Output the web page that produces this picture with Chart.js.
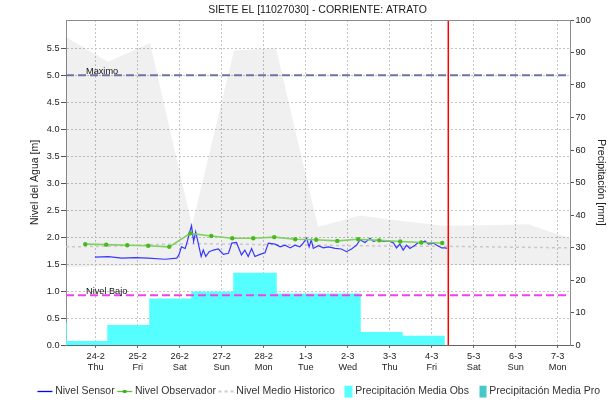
<!DOCTYPE html>
<html>
<head>
<meta charset="utf-8">
<script src="https://cdn.jsdelivr.net/npm/chart.js@4.4.1/dist/chart.umd.min.js"></script>
<style>
html,body{margin:0;padding:0;background:#fff;}
#wrap{width:615px;height:404px;}
</style>
</head>
<body>
<div id="wrap"><canvas id="c" width="615" height="404"></canvas></div>
<script>
// ---------- DATA (x values are days since 24-2 00:00) ----------
const chartTitle = 'SIETE EL [11027030] - CORRIENTE: ATRATO';
const dayLabels = ['24-2','25-2','26-2','27-2','28-2','1-3','2-3','3-3','4-3','5-3','6-3','7-3'];
const weekdayLabels = ['Thu','Fri','Sat','Sun','Mon','Tue','Wed','Thu','Fri','Sat','Sun','Mon'];
const leftTicks = [0,0.5,1,1.5,2,2.5,3,3.5,4,4.5,5,5.5];
const rightTicks = [0,10,20,30,40,50,60,70,80,90,100];

const sensorTime = [-0.02,0.30,0.62,0.94,1.25,1.65,1.93,1.98,2.04,2.13,2.19,2.24,2.28,2.33,2.38,2.44,2.51,2.56,2.62,2.70,2.80,2.92,3.04,3.16,3.24,3.35,3.47,3.55,3.63,3.71,3.79,3.91,4.03,4.11,4.27,4.39,4.51,4.63,4.74,4.86,4.94,5.02,5.08,5.13,5.18,5.30,5.42,5.54,5.70,5.85,5.97,6.09,6.21,6.29,6.41,6.53,6.61,6.73,6.85,6.97,7.09,7.16,7.24,7.32,7.40,7.48,7.60,7.68,7.76,7.84,7.92,8.04,8.12,8.24,8.32,8.36];
const sensorLevel = [1.63,1.64,1.61,1.62,1.61,1.59,1.61,1.67,1.82,1.79,1.95,2.10,2.21,1.92,2.10,1.89,1.64,1.76,1.64,1.73,1.76,1.78,1.68,1.70,1.89,1.90,1.67,1.76,1.64,1.79,1.64,1.68,1.71,1.89,1.87,1.82,1.85,1.80,1.85,1.82,1.89,1.98,1.82,1.95,1.79,1.84,1.80,1.82,1.79,1.78,1.73,1.78,1.85,1.95,1.90,1.98,1.92,1.95,1.92,1.93,1.89,1.80,1.87,1.76,1.85,1.79,1.85,1.90,1.89,1.93,1.87,1.89,1.85,1.80,1.80,1.79];

const observerTime = [-0.25,0.25,0.75,1.25,1.75,2.25,2.75,3.25,3.75,4.25,4.75,5.25,5.75,6.25,6.75,7.25,7.75,8.25];
const observerLevel = [1.87,1.86,1.85,1.84,1.82,2.07,2.02,1.98,1.98,2.00,1.96,1.95,1.93,1.96,1.94,1.92,1.90,1.89];

const dailyTime = [-0.7083,0.2917,1.2917,2.2917,3.2917,4.2917,5.2917,6.2917,7.2917,8.2917,9.2917,10.2917,11.2917];
const historicMean = [1.82,1.83,1.86,1.88,1.87,1.86,1.85,1.84,1.83,1.83,1.82,1.81,1.80];
const historicMax = [5.71,5.25,5.60,2.22,5.46,5.50,2.19,2.40,2.30,2.21,2.22,2.24,1.98];
const historicMin = [1.44,1.46,1.48,1.50,1.50,1.50,1.50,1.50,1.49,1.49,1.48,1.48,1.47];

const precipTime = [-1.7083,-0.7083,0.2917,1.2917,2.2917,3.2917,4.2917,5.2917,6.2917,7.2917,8.2917];
const precipObs = [6.7,1.0,5.9,14.1,16.2,22.0,15.6,15.6,3.8,2.6,0];
const precipProTime = [];
const precipPro = [];

const thresholdNames = ['Maximo','Nivel Bajo'];
const thresholdLevels = [5.0,0.92];
const nowTime = 8.394;
const xMin = -0.7083, xMax = 11.2917;
const yMax = 6.025, y1Max = 100;

// ---------- helpers ----------
const zip = (xs, ys) => xs.map((x, i) => ({x, y: ys[i]}));
const FONT = '"Liberation Sans", Arial, sans-serif';

function icon(draw) {
  const c = document.createElement('canvas');
  c.width = 31; c.height = 14;
  const g = c.getContext('2d');
  draw(g);
  return c;
}
const iconSensor = icon(g => { g.strokeStyle = '#0000ff'; g.lineWidth = 1.3; g.beginPath(); g.moveTo(10.5, 7.5); g.lineTo(25.5, 7.5); g.stroke(); });
const iconObs = icon(g => { g.strokeStyle = '#55c030'; g.lineWidth = 1.3; g.beginPath(); g.moveTo(10.5, 7.5); g.lineTo(25.5, 7.5); g.stroke(); g.fillStyle = '#33aa11'; g.fillRect(16.5, 6, 3, 3); });
const iconMean = icon(g => { g.strokeStyle = '#cccccc'; g.lineWidth = 2; g.setLineDash([3, 3]); g.beginPath(); g.moveTo(10.5, 7.5); g.lineTo(25.5, 7.5); g.stroke(); });
const iconPObs = icon(g => { g.fillStyle = '#55ffff'; g.fillRect(17.5, 0.5, 8, 13); });
const iconPPro = icon(g => { g.fillStyle = '#44c8c8'; g.fillRect(18.5, 0.5, 7, 13); });
const legendIcons = [iconSensor, iconObs, iconMean, iconPObs, iconPPro];

const overlayPlugin = {
  id: 'overlay',
  afterDatasetsDraw(chart) {
    const {ctx, chartArea, scales} = chart;
    ctx.save();
    ctx.strokeStyle = '#8c8c8c';
    ctx.lineWidth = 1;
    const yt = Math.round(chartArea.top) + 0.5;
    ctx.beginPath(); ctx.moveTo(chartArea.left, yt); ctx.lineTo(chartArea.right, yt); ctx.stroke();
    ctx.font = '9.2px ' + FONT;
    ctx.fillStyle = '#111';
    ctx.textBaseline = 'middle';
    ctx.textAlign = 'left';
    thresholdNames.forEach((name, i) => {
      const y = scales.y.getPixelForValue(thresholdLevels[i]);
      ctx.fillText(name, scales.x.getPixelForValue(xMin) + 20, y - 3.5);
    });
    ctx.restore();
  }
};

const gridColor = '#c4c4c4';

new Chart(document.getElementById('c'), {
  type: 'line',
  data: {
    datasets: [
      { label: 'Nivel Sensor', data: zip(sensorTime, sensorLevel), borderColor: '#3636ff', borderWidth: 1.2, pointRadius: 0, yAxisID: 'y', order: 2, tension: 0 },
      { label: 'Nivel Observador', data: zip(observerTime, observerLevel), borderColor: '#80d060', borderWidth: 1.6, pointRadius: 2.2, pointBackgroundColor: '#44bb1a', pointBorderWidth: 0, yAxisID: 'y', order: 1 },
      { label: 'Nivel Medio Historico', data: zip(dailyTime, historicMean), borderColor: '#c8c8c8', borderDash: [3, 3], borderWidth: 1.5, pointRadius: 0, yAxisID: 'y', order: 5 },
      { label: 'Precipitación Media Obs', data: zip(precipTime, precipObs), stepped: 'before', fill: 'origin', backgroundColor: '#55ffff', borderColor: '#55ffff', borderWidth: 1.5, pointRadius: 0, yAxisID: 'y1', order: 8 },
      { label: 'Precipitación Media Pro', data: zip(precipProTime, precipPro), stepped: 'before', fill: 'origin', backgroundColor: '#44c8c8', borderColor: '#44c8c8', borderWidth: 0, pointRadius: 0, yAxisID: 'y1', order: 7 },
      { label: 'maxHist', data: zip(dailyTime, historicMax), borderWidth: 0, borderColor: 'rgba(0,0,0,0)', backgroundColor: 'rgba(0,0,0,0.06)', fill: '+1', pointRadius: 0, yAxisID: 'y', order: 10 },
      { label: 'minHist', data: zip(dailyTime, historicMin), borderWidth: 0, borderColor: 'rgba(0,0,0,0)', fill: false, pointRadius: 0, yAxisID: 'y', order: 10 },
      { label: 'Maximo', data: [{x: xMin, y: thresholdLevels[0]}, {x: xMax, y: thresholdLevels[0]}], borderColor: '#6a74a6', borderDash: [8, 4], borderWidth: 2, pointRadius: 0, yAxisID: 'y', order: 4 },
      { label: 'Nivel Bajo', data: [{x: xMin, y: thresholdLevels[1]}, {x: xMax, y: thresholdLevels[1]}], borderColor: '#f040f0', borderDash: [8, 4], borderWidth: 2, pointRadius: 0, yAxisID: 'y', order: 4 },
      { label: 'now', data: [{x: nowTime, y: 0}, {x: nowTime, y: yMax}], borderColor: '#ff0000', borderWidth: 1.5, pointRadius: 0, yAxisID: 'y', order: 0 }
    ]
  },
  options: {
    responsive: false,
    animation: false,
    devicePixelRatio: 1,
    layout: { padding: { left: 20, right: 0, top: 0, bottom: -2.25 } },
    plugins: {
      tooltip: { enabled: false },
      title: { display: true, text: chartTitle, color: '#1a1a1a', font: { family: FONT, size: 10.5, weight: 'normal' }, padding: { top: 4, bottom: 3.4 } },
      legend: {
        position: 'bottom',
        labels: {
          usePointStyle: true,
          pointStyleWidth: 15,
          padding: 0,
          color: '#333',
          font: { family: FONT, size: 10.5 },
          generateLabels(chart) {
            return chart.data.datasets.slice(0, 5).map((ds, i) => ({
              text: ds.label, pointStyle: legendIcons[i], fillStyle: 'rgba(0,0,0,0)', strokeStyle: 'rgba(0,0,0,0)', lineWidth: 0, hidden: false, datasetIndex: i, fontColor: '#333'
            }));
          }
        }
      }
    },
    scales: {
      x: {
        type: 'linear', min: xMin, max: xMax,
        afterBuildTicks(scale) { scale.ticks = dayLabels.map((_, i) => ({ value: i })); },
        afterFit(scale) { scale.height = 40.75; },
        ticks: { autoSkip: false, maxRotation: 0, padding: 2.5, color: '#222', font: { family: FONT, size: 9.2 },
          callback(value) { const i = Math.round(value); return [dayLabels[i], weekdayLabels[i]]; } },
        grid: { color: gridColor, lineWidth: 1, tickLength: 3, tickColor: '#666', drawTicks: true },
        border: { display: true, color: '#666', dash: [2, 2] }
      },
      y: {
        position: 'left', min: 0, max: yMax,
        afterBuildTicks(scale) { scale.ticks = leftTicks.map(v => ({ value: v })); },
        afterFit(scale) { scale.width = 46; },
        ticks: { padding: 1.5, color: '#222', font: { family: FONT, size: 9.2 }, callback: v => Number(v).toFixed(1) },
        grid: { color: gridColor, lineWidth: 1, tickLength: 5, tickColor: '#555' },
        border: { display: true, color: '#8c8c8c', dash: [2, 2] },
        title: { display: true, text: 'Nivel del Agua [m]', color: '#222', font: { family: FONT, size: 10.5 }, padding: { top: 9.2, bottom: 0 } }
      },
      y1: {
        position: 'right', min: 0, max: y1Max,
        afterBuildTicks(scale) { scale.ticks = rightTicks.map(v => ({ value: v })); },
        afterFit(scale) { scale.width = 45; },
        ticks: { padding: 1.5, color: '#222', font: { family: FONT, size: 9.2 } },
        grid: { drawOnChartArea: false, tickLength: 4, tickColor: '#555' },
        border: { display: true, color: '#8c8c8c' },
        title: { display: true, text: 'Precipitación [mm]', color: '#222', font: { family: FONT, size: 10.5 }, padding: { top: 7.7, bottom: 0 } }
      }
    }
  },
  plugins: [overlayPlugin]
});
</script>
</body>
</html>
